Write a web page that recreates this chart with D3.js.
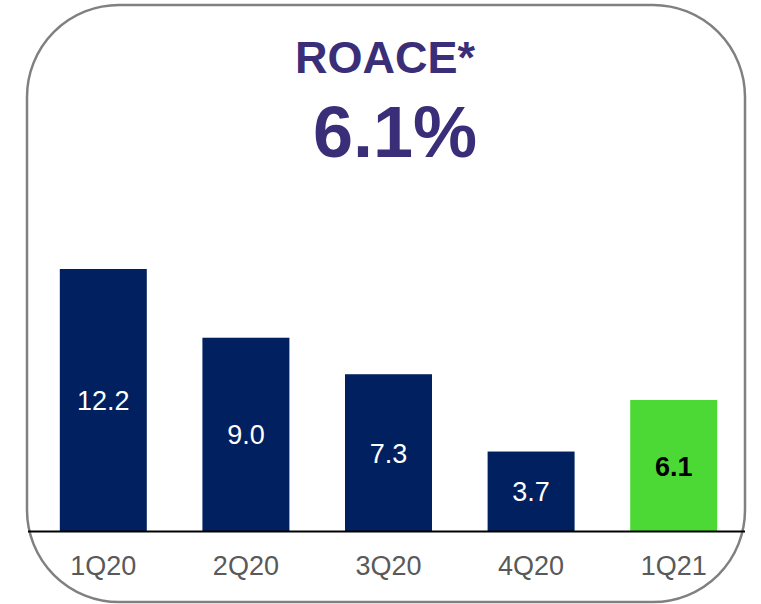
<!DOCTYPE html>
<html>
<head>
<meta charset="utf-8">
<script src="https://cdn.jsdelivr.net/npm/d3@7"></script>
<style>
  html, body { margin: 0; padding: 0; background: #fff; }
  svg { display: block; font-family: Arial, "Liberation Sans", sans-serif; }
</style>
</head>
<body>
<script>
// Quarterly ROACE (%)
const quarters = ["1Q20", "2Q20", "3Q20", "4Q20", "1Q21"];
const roace = [12.2, 9.0, 7.3, 3.7, 6.1];
const headline = "6.1%";
const title = "ROACE*";

const W = 761, H = 604;
const svg = d3.select("body").append("svg").attr("width", W).attr("height", H);

// Rounded frame
svg.append("rect")
  .attr("x", 27).attr("y", 5)
  .attr("width", 718).attr("height", 597)
  .attr("rx", 92).attr("ry", 92)
  .attr("fill", "none")
  .attr("stroke", "#808080")
  .attr("stroke-width", 2.5);

const baseY = 531;
const x = d3.scaleBand()
  .domain(quarters)
  .range([32, 745])
  .paddingInner(0.39)
  .paddingOuter(0.195);

const y = d3.scaleLinear()
  .domain([0, 12.2])
  .range([baseY, 269]);

const navy = "#00205f";
const green = "#4cd935";
const isLatest = (d, i) => i === quarters.length - 1;

// Bars
svg.append("g").selectAll("rect")
  .data(roace)
  .join("rect")
  .attr("x", (d, i) => x(quarters[i]))
  .attr("y", d => y(d))
  .attr("width", x.bandwidth())
  .attr("height", d => baseY - y(d))
  .attr("fill", (d, i) => isLatest(d, i) ? green : navy);

// Value labels inside bars
svg.append("g").selectAll("text")
  .data(roace)
  .join("text")
  .attr("x", (d, i) => x(quarters[i]) + x.bandwidth() / 2)
  .attr("y", d => (y(d) + baseY) / 2 + 10)
  .attr("text-anchor", "middle")
  .attr("font-size", 27)
  .attr("font-weight", (d, i) => isLatest(d, i) ? "bold" : "normal")
  .attr("fill", (d, i) => isLatest(d, i) ? "#000" : "#fff")
  .text(d => d.toFixed(1));

// Baseline
svg.append("line")
  .attr("x1", 28).attr("x2", 745)
  .attr("y1", baseY + 0.5).attr("y2", baseY + 0.5)
  .attr("stroke", "#000")
  .attr("stroke-width", 2);

// Category axis
const xAxis = d3.axisBottom(x).tickSize(0).tickPadding(0);
const gx = svg.append("g")
  .attr("transform", `translate(0,${baseY})`)
  .call(xAxis);
gx.select(".domain").remove();
gx.selectAll("text")
  .attr("y", 44)
  .attr("dy", null)
  .attr("font-size", 27)
  .attr("font-family", "Arial, 'Liberation Sans', sans-serif")
  .attr("fill", "#595959");

// Headline
svg.append("text")
  .attr("x", 385).attr("y", 73)
  .attr("text-anchor", "middle")
  .attr("font-size", 45)
  .attr("font-weight", "bold")
  .attr("fill", "#3a2e78")
  .text(title);

svg.append("text")
  .attr("x", 395).attr("y", 157)
  .attr("text-anchor", "middle")
  .attr("font-size", 72)
  .attr("font-weight", "bold")
  .attr("fill", "#3a2e78")
  .text(headline);
</script>
</body>
</html>
